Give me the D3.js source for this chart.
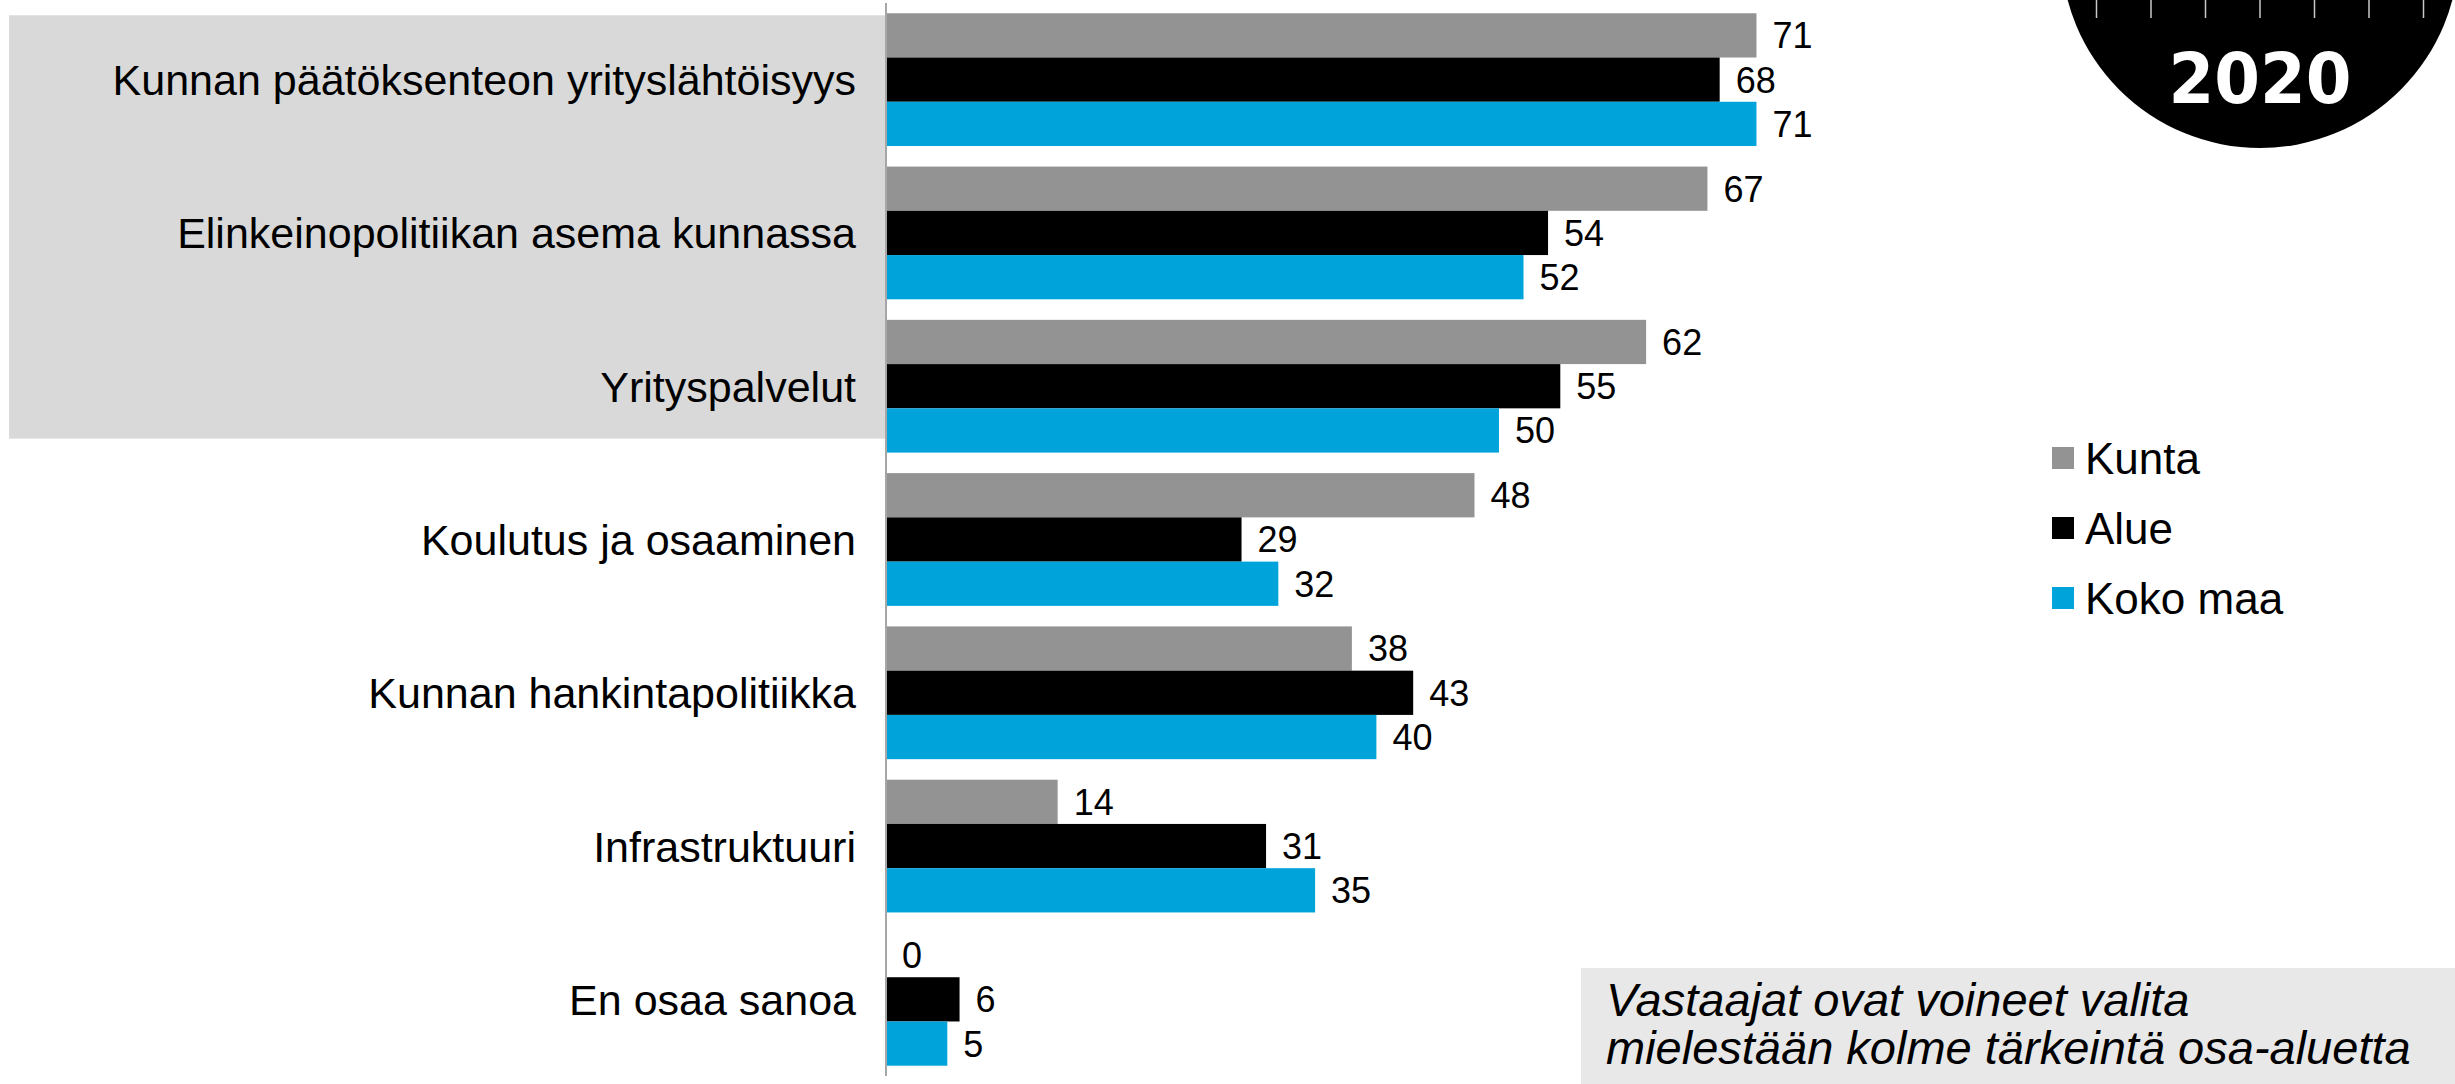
<!DOCTYPE html>
<html>
<head>
<meta charset="utf-8">
<script src="https://cdn.jsdelivr.net/npm/d3@7"></script>
<style>
    body { margin: 0; background: #ffffff; }
    svg { display: block; font-family: "Liberation Sans", Arial, sans-serif; }
</style>
</head>
<body>
<script>
const categories = [
    "Kunnan päätöksenteon yrityslähtöisyys",
    "Elinkeinopolitiikan asema kunnassa",
    "Yrityspalvelut",
    "Koulutus ja osaaminen",
    "Kunnan hankintapolitiikka",
    "Infrastruktuuri",
    "En osaa sanoa"
];
const seriesNames = ["Kunta", "Alue", "Koko maa"];
const kunta = [71, 67, 62, 48, 38, 14, 0];
const alue = [68, 54, 55, 29, 43, 31, 6];
const kokoMaa = [71, 52, 50, 32, 40, 35, 5];
const noteLines = ["Vastaajat ovat voineet valita", "mielestään kolme tärkeintä osa-aluetta"];
const badgeText = "2020";

function main() {

    const canvasWidth = 2455;
    const canvasHeight = 1084;
    const axisX = 886;

    const svg = d3.select("body").append("svg")
        .attr("width", canvasWidth)
        .attr("height", canvasHeight)

    const color = d3.scaleOrdinal()
        .domain(seriesNames)
        .range(["#939393", "#000000", "#00a4da"])

    const data = categories.map((c, i) => ({
        cat: c,
        values: [kunta[i], alue[i], kokoMaa[i]].map((v, j) => ({ key: seriesNames[j], value: v }))
    }));

    const yScale = d3.scaleBand()
        .domain(categories)
        .range([3, 1076])
        .paddingInner(0.134)
        .paddingOuter(0.067);

    const ySub = d3.scaleBand()
        .domain(seriesNames)
        .range([0, yScale.bandwidth()]);

    const xScale = d3.scaleLinear()
        .domain([0, 100])
        .range([axisX, axisX + 1226]);

    // grey highlight panel behind the first three labels
    svg.append("rect")
        .attr("x", 9)
        .attr("y", yScale(categories[0]) + 2)
        .attr("width", axisX - 9)
        .attr("height", yScale(categories[2]) + yScale.bandwidth() - 14 - (yScale(categories[0]) + 2))
        .attr("fill", "#d9d9d9")

    const groups = svg.selectAll(".group")
        .data(data)
        .join("g")
        .attr("class", "group")
        .attr("transform", d => "translate(0," + yScale(d.cat) + ")")

    groups.selectAll("rect")
        .data(d => d.values)
        .join("rect")
        .attr("x", xScale(0))
        .attr("y", d => ySub(d.key))
        .attr("width", d => xScale(d.value) - xScale(0))
        .attr("height", ySub.bandwidth())
        .attr("fill", d => color(d.key))

    groups.selectAll(".val")
        .data(d => d.values)
        .join("text")
        .attr("class", "val")
        .attr("x", d => xScale(d.value) + 16)
        .attr("y", d => ySub(d.key) + ySub.bandwidth() / 2)
        .attr("dy", "0.36em")
        .attr("font-size", "36px")
        .attr("fill", "#000")
        .text(d => d.value)

    // category labels
    svg.append("g")
        .selectAll("text")
        .data(categories)
        .join("text")
        .attr("x", axisX - 30)
        .attr("y", d => yScale(d) + yScale.bandwidth() / 2)
        .attr("dy", "0.36em")
        .attr("text-anchor", "end")
        .attr("font-size", "43px")
        .attr("fill", "#000")
        .text(d => d)

    // axis line
    svg.append("line")
        .attr("x1", axisX)
        .attr("x2", axisX)
        .attr("y1", 3)
        .attr("y2", 1076)
        .attr("stroke", "#a6a6a6")
        .attr("stroke-width", 2)

    // legend
    const legend = svg.append("g")
        .attr("transform", "translate(2052,447)")

    const item = legend.selectAll("g")
        .data(seriesNames)
        .join("g")
        .attr("transform", (d, i) => "translate(0," + i * 70 + ")")

    item.append("rect")
        .attr("width", 22)
        .attr("height", 22)
        .attr("fill", d => color(d))

    item.append("text")
        .attr("x", 33)
        .attr("y", 11)
        .attr("dy", "0.36em")
        .attr("font-size", "44px")
        .attr("fill", "#000")
        .text(d => d)

    // note box
    svg.append("rect")
        .attr("x", 1581)
        .attr("y", 968)
        .attr("width", canvasWidth - 1581)
        .attr("height", canvasHeight - 968)
        .attr("fill", "#e8e8e8")

    svg.append("g")
        .selectAll("text")
        .data(noteLines)
        .join("text")
        .attr("x", 1606)
        .attr("y", (d, i) => 1016 + i * 48)
        .attr("font-size", "47px")
        .attr("font-style", "italic")
        .attr("fill", "#000")
        .text(d => d)

    // year badge top right
    const badge = svg.append("g")
        .attr("transform", "translate(2260,-51)")

    badge.append("circle")
        .attr("r", 199)
        .attr("fill", "#000")

    badge.selectAll("line")
        .data(d3.range(-3, 4))
        .join("line")
        .attr("x1", d => d * 54.5)
        .attr("x2", d => d * 54.5)
        .attr("y1", 51)
        .attr("y2", 69)
        .attr("stroke", "#c8c8c8")
        .attr("stroke-width", 1.5)

    badge.append("text")
        .attr("x", 0)
        .attr("y", 154)
        .attr("text-anchor", "middle")
        .attr("font-family", "DejaVu Sans")
        .attr("font-weight", "bold")
        .attr("font-size", "70px")
        .attr("textLength", 183)
        .attr("lengthAdjust", "spacingAndGlyphs")
        .attr("fill", "#fff")
        .text(badgeText)
}
main();
</script>
</body>
</html>
